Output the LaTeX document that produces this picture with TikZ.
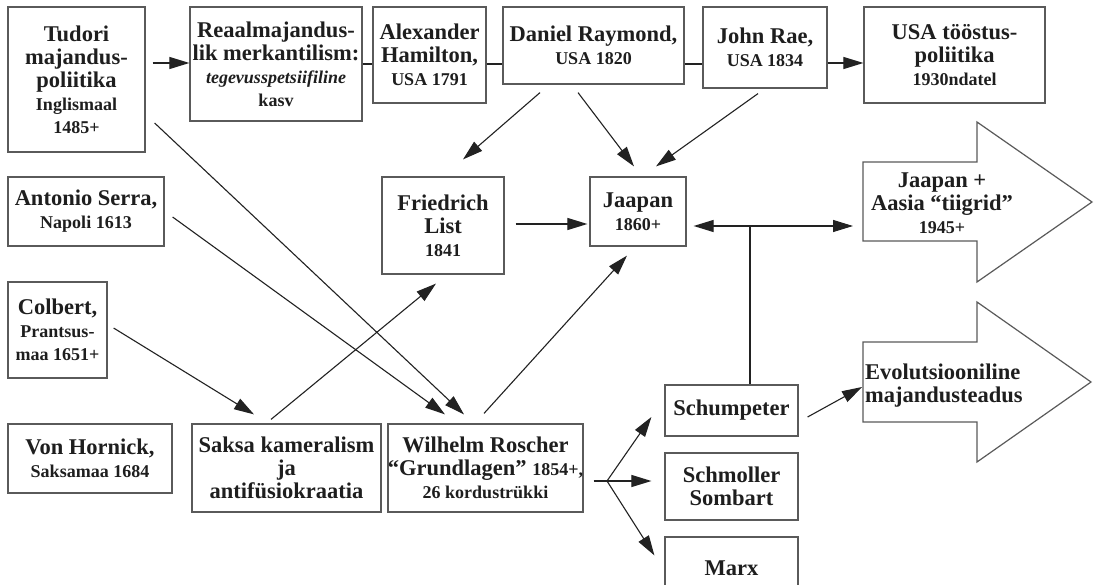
\documentclass[tikz,border=0pt]{standalone}
\usepackage{fontspec}
\setmainfont{Liberation Serif}
\usetikzlibrary{arrows.meta,calc}
\definecolor{boxgray}{HTML}{5A5A5A}
\definecolor{lincol}{HTML}{222222}
\definecolor{txt}{HTML}{1E1E1E}
\newcommand\smtx{\fontsize{18}{21}\selectfont}
\begin{document}
\begin{tikzpicture}[x=1pt,y=-1pt,
  box/.style={draw=boxgray, line width=1.2pt, inner sep=0pt, align=center, text=txt,
    font=\bfseries\fontsize{22.5}{23}\selectfont},
  plain/.style={inner sep=0pt, text=txt, font=\bfseries\fontsize{22.5}{23}\selectfont},
  con/.style={draw=lincol, line width=1.1pt},
  arr/.style={con, -{Triangle[length=20pt,width=12pt]}},
  darr/.style={con, {Triangle[length=20pt,width=12pt]}-{Triangle[length=20pt,width=12pt]}},
  bigarrow/.style={draw=boxgray, line width=1.2pt, fill=white, line join=miter}]
\useasboundingbox[fill=white] (0,0) rectangle (1094,585);

% top row
\node[box,minimum width=137pt,minimum height=145pt] (tudori) at (76.5,79.5)
  {Tudori\\majandus-\\poliitika\\{\smtx Inglismaal}\\{\smtx 1485+}};
\node[box,minimum width=172pt,minimum height=114pt] (reaal) at (276,64)
  {Reaalmajandus-\\lik merkantilism:\\{\smtx\itshape tegevusspetsiifiline}\\{\smtx kasv}};
\node[box,minimum width=113pt,minimum height=96pt] (hamilton) at (429.5,55)
  {Alexander\\Hamilton,\\{\smtx USA 1791}};
\node[box,minimum width=181pt,minimum height=77pt] (raymond) at (593.5,45.5)
  {Daniel Raymond,\\{\smtx USA 1820}};
\node[box,minimum width=124pt,minimum height=81pt] (rae) at (765,47.5)
  {John Rae,\\{\smtx USA 1834}};
\node[box,minimum width=181pt,minimum height=96pt] (usa) at (954.5,55)
  {USA tööstus-\\poliitika\\{\smtx 1930ndatel}};

% left column
\node[box,minimum width=156pt,minimum height=69pt] (serra) at (86,211.5)
  {Antonio Serra,\\{\smtx Napoli 1613}};
\node[box,minimum width=99pt,minimum height=96pt] (colbert) at (57.5,330)
  {Colbert,\\{\smtx Prantsus-}\\{\smtx maa 1651+}};
\node[box,minimum width=164pt,minimum height=69pt] (hornick) at (90,458.5)
  {Von Hornick,\\{\smtx Saksamaa 1684}};

% middle
\node[box,minimum width=189pt,minimum height=88pt] (saksa) at (286.5,468)
  {Saksa kameralism\\ja\\antifüsiokraatia};
\node[box,minimum width=189pt,minimum height=88pt] (wilhelm) at (485.5,468)
  {Wilhelm Roscher\\“Grundlagen” {\smtx 1854+,}\\{\smtx 26 kordustrükki}};
\node[box,minimum width=122pt,minimum height=97pt] (list) at (443,225.5)
  {Friedrich\\List\\{\smtx 1841}};
\node[box,minimum width=96pt,minimum height=69pt] (jaapan) at (638,211.5)
  {Jaapan\\{\smtx 1860+}};

% right column boxes
\node[box,minimum width=133pt,minimum height=51pt] (schumpeter) at (731.5,410.5) {Schumpeter};
\node[box,minimum width=133pt,minimum height=67pt] (schmoller) at (731.5,486.5) {Schmoller\\Sombart};
\node[box,minimum width=133pt,minimum height=63pt] (marx) at (731.5,568.5) {Marx};

% big arrows
\draw[bigarrow] (863,162) -- (977,162) -- (977,122) -- (1092,202) -- (977,282)
  -- (977,241) -- (863,241) -- cycle;
\coordinate (a1w) at (863,201.5);
\node[plain,align=center] (a1) at (942,203) {Jaapan +\\Aasia “tiigrid”\\{\smtx 1945+}};
\draw[bigarrow] (863,342) -- (977,342) -- (977,302) -- (1091,382) -- (977,462)
  -- (977,422) -- (863,422) -- cycle;
\coordinate (a2w) at (863,382);
\node[plain,align=left,anchor=west] (a2) at (865,386) {Evolutsiooniline\\majandusteadus};

% connectors: top row
\draw[arr] ($(tudori.east |- reaal.west)+(7,-1)$) -- ($(reaal.west)+(0,-1)$);
\draw[con] (reaal.east) -- (reaal.east -| hamilton.west);
\draw[con] (hamilton.east |- reaal.east) -- (raymond.west |- reaal.east);
\draw[con] (raymond.east |- reaal.east) -- (rae.west |- reaal.east);
\draw[arr] ($(rae.east |- reaal.east)+(0,-1)$) -- ($(usa.west |- reaal.east)+(0,-1)$);

% into List / Jaapan
\draw[arr] ($(raymond.south)+(-53.5,8)$) -- ($(list.north)+(20,-17)$);
\draw[arr] ($(raymond.south)+(-15.5,8)$) -- ($(jaapan.north)+(-4,-10)$);
\draw[arr] ($(rae.south)+(-7,5)$) -- ($(jaapan.north)+(18,-10)$);
\draw[arr] ($(list.east)+(11,-1.5)$) -- ($(jaapan.west |- list.east)+(-2,-1.5)$);

% long diagonals
\draw[arr] ($(tudori.east)+(9,43.5)$) -- ($(wilhelm.north)+(-21.5,-9)$);
\draw[arr] ($(serra.east)+(8,5.5)$) -- ($(wilhelm.north)+(-40.5,-9)$);
\draw[arr] ($(colbert.east)+(6,-2)$) -- ($(saksa.north)+(-32.5,-9)$);
\draw[arr] ($(saksa.north)+(-15.5,-4)$) -- ($(list.south)+(-7,9)$);
\draw[arr] ($(wilhelm.north)+(-1.5,-10)$) -- ($(jaapan.south)+(-11,9)$);

% Jaapan <-> A1, with branch down to Schumpeter
\draw[darr] ($(jaapan.east)+(7,14.5)$) -- ($(a1w)+(-10,24.5)$);
\draw[con] ($(schumpeter.north)+(18.5,-159)$) -- ($(schumpeter.north)+(18.5,0)$);

% fork from Roscher
\coordinate (fork) at (607,481);
\draw[con] ($(wilhelm.east)+(10,13)$) -- (fork);
\draw[arr] (fork) -- ($(schumpeter.west)+(-13,6.5)$);
\draw[arr] (fork) -- ($(schmoller.west)+(-13,-5.5)$);
\draw[arr] (fork) -- ($(marx.north west)+(-10,19)$);
\draw[arr] ($(schumpeter.east)+(9,6.5)$) -- ($(a2w)+(-1,5)$);
\end{tikzpicture}
\end{document}
